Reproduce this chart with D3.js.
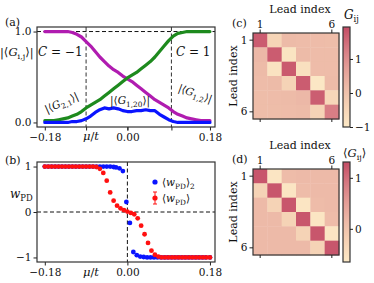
<!DOCTYPE html>
<html>
<head>
<meta charset="utf-8">
<script src="https://cdn.jsdelivr.net/npm/d3@7"></script>
<style>
  body { margin: 0; background: #fff; }
  text { font-family: "DejaVu Serif", "Liberation Serif", serif; fill: #111; }
</style>
</head>
<body>
<div id="chart"></div>
<script>
// panel (a): |<G_ij>| against mu/t
const muA = [-0.18, -0.17, -0.16, -0.15, -0.14, -0.13, -0.12, -0.11, -0.10, -0.09, -0.08, -0.07, -0.06, -0.05, -0.04, -0.03, -0.02, -0.01,
  0.00, 0.01, 0.02, 0.03, 0.04, 0.05, 0.06, 0.07, 0.08, 0.09, 0.10, 0.11, 0.12, 0.13, 0.14, 0.15, 0.16, 0.17, 0.18];
const g21 = [0.02, 0.02, 0.02, 0.03, 0.04, 0.05, 0.07, 0.09, 0.12, 0.16, 0.19, 0.22, 0.25, 0.29, 0.33, 0.37, 0.41, 0.45,
  0.49, 0.52, 0.55, 0.59, 0.63, 0.67, 0.72, 0.78, 0.84, 0.90, 0.95, 0.98, 0.99, 1.0, 1.0, 1.0, 1.0, 1.0, 1.0];
const g12 = [1.0, 1.0, 1.0, 1.0, 1.0, 1.0, 0.99, 0.97, 0.94, 0.89, 0.84, 0.78, 0.72, 0.67, 0.62, 0.58, 0.55, 0.51,
  0.48, 0.45, 0.41, 0.37, 0.33, 0.29, 0.25, 0.22, 0.19, 0.16, 0.12, 0.09, 0.07, 0.05, 0.04, 0.03, 0.02, 0.02, 0.02];
const g120 = [0, 0, 0, 0, 0, 0, 0.01, 0.01, 0.02, 0.04, 0.07, 0.11, 0.14, 0.16, 0.15, 0.16, 0.15, 0.13,
  0.12, 0.12, 0.13, 0.13, 0.14, 0.13, 0.13, 0.09, 0.06, 0.03, 0.01, 0, 0, 0, 0, 0, 0, 0, 0];
const phaseEdges = [-0.09, 0.096];

// panel (b): w_PD
const muB = [-0.18, -0.1725, -0.165, -0.1575, -0.15, -0.1425, -0.135, -0.1275, -0.12, -0.1125, -0.105, -0.0975, -0.09,
  -0.0825, -0.075, -0.0675, -0.06, -0.0525, -0.045, -0.0375, -0.03, -0.0225, -0.015, -0.0075, 0, 0.0075, 0.015, 0.0225,
  0.03, 0.0375, 0.045, 0.0525, 0.06, 0.0675, 0.075, 0.0825, 0.09, 0.0975, 0.105, 0.1125, 0.12, 0.1275, 0.135, 0.1425,
  0.15, 0.1575, 0.165, 0.1725, 0.18];
const wMean = [1, 1, 1, 1, 1, 1, 1, 1, 1, 1, 1, 1, 1, 1, 1, 0.99, 0.95, 0.86, 0.69, 0.43, 0.25, 0.14, 0.08, 0.04, 0.01,
  -0.02, -0.05, -0.14, -0.30, -0.49, -0.68, -0.85, -0.94, -0.98, -1, -1, -1, -1, -1, -1, -1, -1, -1, -1, -1, -1, -1, -1, -1];
const muB2 = [-0.18, -0.1725, -0.165, -0.1575, -0.15, -0.1425, -0.135, -0.1275, -0.12, -0.1125, -0.105, -0.0975, -0.09,
  -0.0825, -0.075, -0.0675, -0.06, -0.0525, -0.045, -0.0375, -0.03, -0.0248, -0.0173, -0.0098, -0.0022, 0.0055, 0.013,
  0.0205, 0.028, 0.0355, 0.043, 0.0505, 0.058, 0.0655, 0.073, 0.0805, 0.088, 0.0955, 0.103, 0.1105, 0.118, 0.1255,
  0.133, 0.1405, 0.148, 0.1555, 0.163, 0.1705, 0.18];
const wMean2 = [1, 1, 1, 1, 1, 1, 1, 1, 1, 1, 1, 1, 1, 1, 1, 1, 1, 1, 1, 1, 0.99, 0.98, 0.96, 0.90, 0.22, -0.24, -0.88,
  -0.95, -0.98, -0.99, -1, -1, -1, -1, -1, -1, -1, -1, -1, -1, -1, -1, -1, -1, -1, -1, -1, -1, -1];

const xTicks = [-0.18, 0, 0.18];
const leads = [1, 2, 3, 4, 5, 6];

// panel (c): G_ij
const gC = [
  [1.72, -0.45, 0.15, 0.12, 0.12, 0.10],
  [0.20, 1.72, -0.85, 0.15, 0.12, 0.12],
  [0.15, -0.80, 1.75, -0.75, 0.12, 0.12],
  [0.12, 0.15, -0.40, 1.72, -0.95, 0.15],
  [0.10, 0.12, 0.15, 0.20, 1.70, -0.50],
  [0.10, 0.10, 0.12, 0.15, -0.40, 1.25]
];
const cDomainC = [-1, 1.94];
const cTicksC = [-1, 0, 1];

// panel (d): <G_ij>
const gD = [
  [1.22, -0.57, 0.10, 0.12, 0.12, 0.12],
  [-0.25, 1.22, -0.57, 0.10, 0.12, 0.12],
  [0.12, -0.25, 1.22, -0.57, 0.10, 0.12],
  [0.12, 0.12, -0.25, 1.22, -0.57, 0.10],
  [0.12, 0.12, 0.12, -0.25, 1.22, -0.57],
  [0.12, 0.12, 0.12, 0.12, -0.25, 1.22]
];
const cDomainD = [-0.65, 1.31];
const cTicksD = [0, 1];

const width = 374, height = 283;
const pA = { left: 37, top: 27, w: 178, h: 100 };
const pB = { left: 37, top: 162, w: 178, h: 100 };
const pC = { left: 253, top: 33, size: 86, cbTop: 27, cbH: 100 };
const pD = { left: 253, top: 169, size: 86, cbTop: 162, cbH: 100 };
const cbX = 343, cbW = 7;
const mapColors = ["#fce9c6", "#f6d4b6", "#edbaa8", "#e39d97", "#d67882", "#c44c65"];
const tickFont = 10.5;

const svg = d3.select("#chart").append("svg")
  .attr("width", width).attr("height", height);

// write text with italic / subscript pieces: [str, kind] kind = "i" | "r" | "s"
function mathText(g, x, y, pieces, size, anchor, rotate) {
  const t = g.append("text")
    .attr("x", x).attr("y", y)
    .attr("font-size", size)
    .attr("text-anchor", anchor || "start");
  if (rotate) t.attr("transform", `rotate(${rotate},${x},${y})`);
  let shifted = false;
  pieces.forEach(([s, kind]) => {
    const sp = t.append("tspan").text(s);
    if (kind === "i") sp.attr("font-style", "italic");
    if (kind === "s") {
      sp.attr("font-size", size * 0.7);
      if (!shifted) { sp.attr("dy", size * 0.25); shifted = true; }
    } else if (shifted) {
      sp.attr("dy", -size * 0.25); shifted = false;
    }
  });
  return t;
}

function styleAxis(g) {
  g.attr("font-family", null).attr("font-size", null);
  g.selectAll("text").attr("font-size", tickFont).style("fill", "#111");
  g.selectAll("line").attr("stroke", "#222");
  g.select(".domain").remove();
}

function frame(p) {
  svg.append("rect")
    .attr("x", p.left).attr("y", p.top).attr("width", p.w).attr("height", p.h)
    .attr("fill", "none").attr("stroke", "#333").attr("stroke-width", 1.2);
}

const x = d3.scaleLinear().domain([-0.197, 0.191]).range([pA.left, pA.left + pA.w]);
const yA = d3.scaleLinear().domain([-0.05, 1.05]).range([pA.top + pA.h, pA.top]);
const yB = d3.scaleLinear().domain([-1.1, 1.1]).range([pB.top + pB.h, pB.top]);

// ---- panel (a)
const ga = svg.append("g");
const dash = "4,2.5";
ga.append("line")
  .attr("x1", pA.left).attr("x2", pA.left + pA.w).attr("y1", yA(1)).attr("y2", yA(1))
  .attr("stroke", "#111").attr("stroke-dasharray", dash);
ga.selectAll(".vline").data(phaseEdges).join("line")
  .attr("x1", d => x(d)).attr("x2", d => x(d)).attr("y1", pA.top).attr("y2", pA.top + pA.h)
  .attr("stroke", "#333").attr("stroke-dasharray", dash);

const lineA = vals => d3.line().x((d, i) => x(muA[i])).y(d => yA(d))(vals);
[[g12, "#b01cb0"], [g21, "#1e8a1e"], [g120, "#0a14ff"]].forEach(([vals, c]) => {
  ga.append("path").attr("d", lineA(vals))
    .attr("fill", "none").attr("stroke", c).attr("stroke-width", 3.2)
    .attr("stroke-linejoin", "round").attr("stroke-linecap", "round");
});
frame(pA);

ga.append("g").attr("transform", `translate(0,${pA.top + pA.h})`)
  .call(d3.axisBottom(x).tickValues(phaseEdges.concat([0])).tickFormat("").tickSize(3.5).tickSizeOuter(0))
  .call(styleAxis);
ga.append("g").attr("transform", `translate(0,${pA.top + pA.h})`)
  .call(d3.axisBottom(x).tickValues(xTicks).tickFormat(d3.format(".2f")).tickSize(3.5).tickPadding(3))
  .call(styleAxis);
ga.append("g").attr("transform", `translate(${pA.left},0)`)
  .call(d3.axisLeft(yA).tickValues([0, 1]).tickSize(3.5).tickPadding(2))
  .call(styleAxis);

svg.append("text").attr("x", 5).attr("y", 26).attr("font-size", 11).text("(a)");
mathText(svg, 0, 56, [["|⟨", "r"], ["G", "i"], ["i,j", "s"], ["⟩|", "r"]], 11.5);
mathText(svg, 38, 56, [["C", "i"], [" = −1", "r"]], 12);
mathText(svg, 176, 56, [["C", "i"], [" = 1", "r"]], 12);
mathText(svg, 63, 106, [["|⟨", "r"], ["G", "i"], ["2,1", "s"], ["⟩|", "r"]], 10.5, "middle", -24);
mathText(svg, 130, 104, [["|⟨", "r"], ["G", "i"], ["1,20", "s"], ["⟩|", "r"]], 10.5, "middle");
mathText(svg, 194, 97, [["|⟨", "r"], ["G", "i"], ["1,2", "s"], ["⟩|", "r"]], 10.5, "middle", 20);
mathText(svg, 91, 140, [["μ", "i"], ["/", "r"], ["t", "i"]], 11.5, "middle");

// ---- panel (b)
const gb = svg.append("g");
gb.append("line")
  .attr("x1", pB.left).attr("x2", pB.left + pB.w).attr("y1", yB(0)).attr("y2", yB(0))
  .attr("stroke", "#111").attr("stroke-dasharray", dash);
gb.append("line")
  .attr("x1", x(0)).attr("x2", x(0)).attr("y1", pB.top).attr("y2", pB.top + pB.h)
  .attr("stroke", "#111").attr("stroke-dasharray", dash);

gb.selectAll(".b2").data(wMean2).join("circle")
  .attr("cx", (d, i) => x(muB2[i])).attr("cy", d => yB(d)).attr("r", 2.4)
  .attr("fill", "#0a14ff");
gb.selectAll(".b1").data(wMean).join("circle")
  .attr("cx", (d, i) => x(muB[i])).attr("cy", d => yB(d)).attr("r", 2.4)
  .attr("fill", "#ff1010");
frame(pB);

gb.append("g").attr("transform", `translate(0,${pB.top + pB.h})`)
  .call(d3.axisBottom(x).tickValues(xTicks).tickFormat(d3.format(".2f")).tickSize(3.5).tickPadding(3))
  .call(styleAxis);
gb.append("g").attr("transform", `translate(${pB.left},0)`)
  .call(d3.axisLeft(yB).tickValues([-1, 0, 1]).tickFormat(d3.format("d")).tickSize(3.5).tickPadding(2))
  .call(styleAxis);

svg.append("text").attr("x", 5).attr("y", 164).attr("font-size", 11).text("(b)");
mathText(svg, 10, 198, [["w", "i"], ["PD", "s"]], 12);
mathText(svg, 91, 276, [["μ", "i"], ["/", "r"], ["t", "i"]], 11.5, "middle");

// legend
const lg = svg.append("g");
lg.append("circle").attr("cx", 155).attr("cy", 182).attr("r", 2.6).attr("fill", "#0a14ff");
mathText(lg, 162, 186, [["⟨", "r"], ["w", "i"], ["PD", "s"], ["⟩", "r"], ["2", "s"]], 10.5);
lg.append("line").attr("x1", 155).attr("x2", 155).attr("y1", 192).attr("y2", 204)
  .attr("stroke", "#ff1010").attr("stroke-width", 1);
[192, 204].forEach(yy => lg.append("line").attr("x1", 153).attr("x2", 157).attr("y1", yy).attr("y2", yy)
  .attr("stroke", "#ff1010").attr("stroke-width", 1));
lg.append("circle").attr("cx", 155).attr("cy", 198).attr("r", 2.6).attr("fill", "#ff1010");
mathText(lg, 162, 202, [["⟨", "r"], ["w", "i"], ["PD", "s"], ["⟩", "r"]], 10.5);

// ---- heatmaps
const interp = d3.interpolateRgbBasis(mapColors);

function heatmap(p, mat, cDomain, cTicks, tag, label, id) {
  const g = svg.append("g");
  const xb = d3.scaleBand().domain(leads).range([p.left, p.left + p.size]);
  const yb = d3.scaleBand().domain(leads).range([p.top, p.top + p.size]);
  const color = d3.scaleSequential(interp).domain(cDomain);
  const cells = [];
  mat.forEach((row, i) => row.forEach((v, j) => cells.push({ r: leads[i], c: leads[j], v })));
  g.selectAll("rect.cell").data(cells).join("rect")
    .attr("x", d => xb(d.c)).attr("y", d => yb(d.r))
    .attr("width", xb.bandwidth() + 0.4).attr("height", yb.bandwidth() + 0.4)
    .attr("fill", d => color(d.v));
  g.append("rect").attr("x", p.left).attr("y", p.top).attr("width", p.size).attr("height", p.size)
    .attr("fill", "none").attr("stroke", "#333").attr("stroke-width", 1.2);

  g.append("g").attr("transform", `translate(0,${p.top})`)
    .call(d3.axisTop(xb).tickValues([1, 6]).tickSize(3.5).tickPadding(2))
    .call(styleAxis);
  g.append("g").attr("transform", `translate(0,${p.top + p.size})`)
    .call(d3.axisBottom(xb).tickValues([1, 6]).tickFormat("").tickSize(3))
    .call(styleAxis);
  g.append("g").attr("transform", `translate(${p.left},0)`)
    .call(d3.axisLeft(yb).tickValues([1, 6]).tickSize(3.5).tickPadding(2))
    .call(styleAxis);

  g.append("text").attr("x", p.left + p.size / 2 + 4).attr("y", p.top - 20)
    .attr("text-anchor", "middle").attr("font-size", 11).text("Lead index");
  g.append("text").attr("transform", `translate(${p.left - 16},${p.top + p.size / 2}) rotate(-90)`)
    .attr("text-anchor", "middle").attr("font-size", 11).text("Lead index");
  g.append("text").attr("x", p.left - 21).attr("y", p.top - 6).attr("font-size", 11).text(tag);

  // colorbar
  const grad = svg.append("defs").append("linearGradient").attr("id", id)
    .attr("x1", 0).attr("x2", 0).attr("y1", 1).attr("y2", 0);
  d3.range(0, 1.001, 0.1).forEach(t => grad.append("stop").attr("offset", t).attr("stop-color", interp(t)));
  const cy = d3.scaleLinear().domain(cDomain).range([p.cbTop + p.cbH, p.cbTop]);
  g.append("rect").attr("x", cbX).attr("y", p.cbTop).attr("width", cbW).attr("height", p.cbH)
    .attr("fill", `url(#${id})`).attr("stroke", "#333").attr("stroke-width", 1.2);
  g.append("g").attr("transform", `translate(${cbX + cbW},0)`)
    .call(d3.axisRight(cy).tickValues(cTicks).tickFormat(d3.format("d")).tickSize(3).tickPadding(2))
    .call(styleAxis);
  label(g);
}

heatmap(pC, gC, cDomainC, cTicksC, "(c)",
  g => mathText(g, 344, 19, [["G", "i"], ["ij", "s"]], 12), "cbc");
heatmap(pD, gD, cDomainD, cTicksD, "(d)",
  g => mathText(g, 343, 157, [["⟨", "r"], ["G", "i"], ["ij", "s"], ["⟩", "r"]], 11.5), "cbd");
</script>
</body>
</html>
